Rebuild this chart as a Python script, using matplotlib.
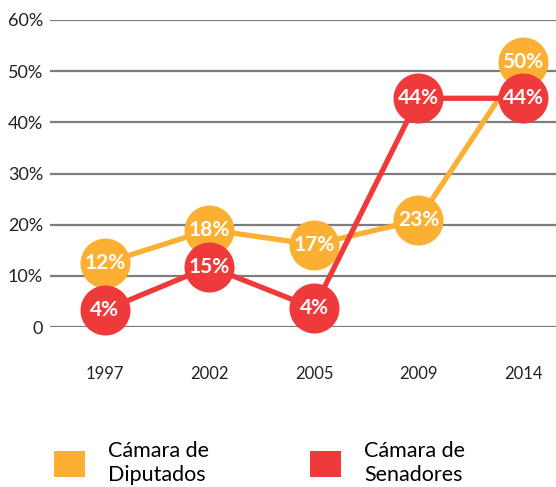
import matplotlib
matplotlib.use("Agg")
import matplotlib.pyplot as plt
from matplotlib.patches import Patch

plt.rcParams["font.family"] = ["Lato", "DejaVu Sans"]

years = ["1997", "2002", "2005", "2009", "2014"]
# printed labels
diputados_lbl = [12, 18, 17, 23, 50]
senadores_lbl = [4, 15, 4, 44, 44]
# where the points sit on the axis
diputados = [12.5, 19.0, 16.1, 20.9, 51.8]
senadores = [3.3, 11.8, 3.7, 44.7, 44.7]
y_ticks = [0, 10, 20, 30, 40, 50, 60]
y_labels = ["0", "10%", "20%", "30%", "40%", "50%", "60%"]
series_names = ["Cámara de\nDiputados", "Cámara de\nSenadores"]

ORANGE = "#FBB034"
RED = "#EE3A3A"
GRID = "#7d7d80"

fig = plt.figure(figsize=(5.56, 4.87), dpi=100)
ax = fig.add_axes([50 / 556, 160 / 487, 506 / 556, 307 / 487])

for v in y_ticks:
    ax.axhline(v, color=GRID, linewidth=1.6, zorder=1)

x = list(range(len(years)))
for vals, lbls, col in [(diputados, diputados_lbl, ORANGE),
                        (senadores, senadores_lbl, RED)]:
    ax.plot(x, vals, color=col, linewidth=3.8, marker="o", markersize=36,
            markeredgewidth=0, zorder=3, clip_on=False, solid_capstyle="butt")
    for xi, v, l in zip(x, vals, lbls):
        ax.text(xi, v, f"{l}%", color="white", fontsize=15, fontweight="bold",
                ha="center", va="center", zorder=4)

ax.set_xlim(-0.526, 4.316)
ax.set_ylim(0, 60)
ax.set_xticks(x)
ax.set_xticklabels(years, fontsize=12, color="#222222")
ax.set_yticks(y_ticks)
ax.set_yticklabels(y_labels, fontsize=13, color="#222222")
ax.tick_params(axis="both", length=0)
ax.tick_params(axis="x", pad=28)
ax.tick_params(axis="y", pad=5)
for sp in ax.spines.values():
    sp.set_visible(False)

handles = [Patch(facecolor=ORANGE), Patch(facecolor=RED)]
fig.legend(handles, series_names, loc="lower left", bbox_to_anchor=(0.062, -0.035),
           ncol=2, frameon=False, fontsize=15.5, handlelength=1.44, handleheight=1.44,
           handletextpad=1.07, columnspacing=4.7, labelspacing=0.2)

fig.savefig("out.png", dpi=100)
